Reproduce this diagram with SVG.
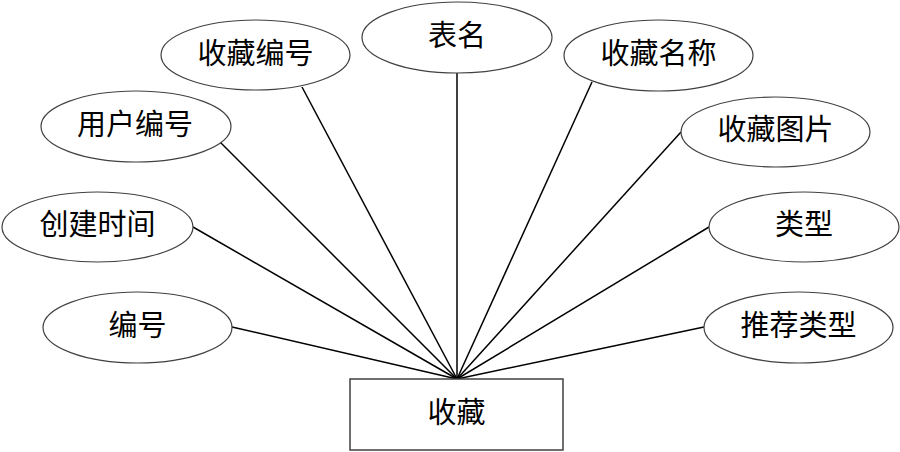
<svg xmlns="http://www.w3.org/2000/svg" width="900" height="452" viewBox="0 0 900 452">
<style>
.e{fill:#fff;stroke:#404040;stroke-width:1.2}
.r{fill:#fff;stroke:#404040;stroke-width:1.5}
.t{font-family:"Liberation Serif","Noto Sans CJK SC",serif;font-size:29px;fill:#000;text-anchor:middle;dominant-baseline:central}
.c line{stroke:#000;stroke-width:1.5}
</style>
<rect width="900" height="452" fill="#fff"/>
<g class="c" id="connectors">
<line x1="232" y1="327" x2="457" y2="379"/>
<line x1="193" y1="227" x2="457" y2="379"/>
<line x1="220" y1="142" x2="457" y2="379"/>
<line x1="302" y1="87" x2="457" y2="379"/>
<line x1="457" y1="73" x2="457" y2="379"/>
<line x1="592" y1="82" x2="457" y2="379"/>
<line x1="681" y1="132" x2="457" y2="379"/>
<line x1="709" y1="227" x2="457" y2="379"/>
<line x1="704" y1="327" x2="457" y2="379"/>
</g>
<g id="entity"><rect class="r" x="350" y="379" width="213" height="71"/><text class="t" x="456.5" y="413">收藏</text></g>
<g id="a1"><ellipse class="e" cx="137.5" cy="327.5" rx="94.5" ry="35.5"/><text class="t" x="137.5" y="326">编号</text></g>
<g id="a2"><ellipse class="e" cx="97.5" cy="227" rx="95.5" ry="35"/><text class="t" x="97.5" y="225">创建时间</text></g>
<g id="a3"><ellipse class="e" cx="136" cy="126.5" rx="95" ry="35.5"/><text class="t" x="135" y="125">用户编号</text></g>
<g id="a4"><ellipse class="e" cx="255.5" cy="55" rx="94.5" ry="35"/><text class="t" x="255.5" y="54">收藏编号</text></g>
<g id="a5"><ellipse class="e" cx="457" cy="37.5" rx="95" ry="35.5"/><text class="t" x="457" y="36">表名</text></g>
<g id="a6"><ellipse class="e" cx="658.5" cy="55.5" rx="94.5" ry="35.5"/><text class="t" x="658.5" y="54">收藏名称</text></g>
<g id="a7"><ellipse class="e" cx="775.5" cy="132" rx="94.5" ry="35"/><text class="t" x="775.5" y="130">收藏图片</text></g>
<g id="a8"><ellipse class="e" cx="804" cy="227" rx="95" ry="35"/><text class="t" x="804" y="225">类型</text></g>
<g id="a9"><ellipse class="e" cx="798.5" cy="327.5" rx="94.5" ry="35.5"/><text class="t" x="798.5" y="326">推荐类型</text></g>
</svg>
